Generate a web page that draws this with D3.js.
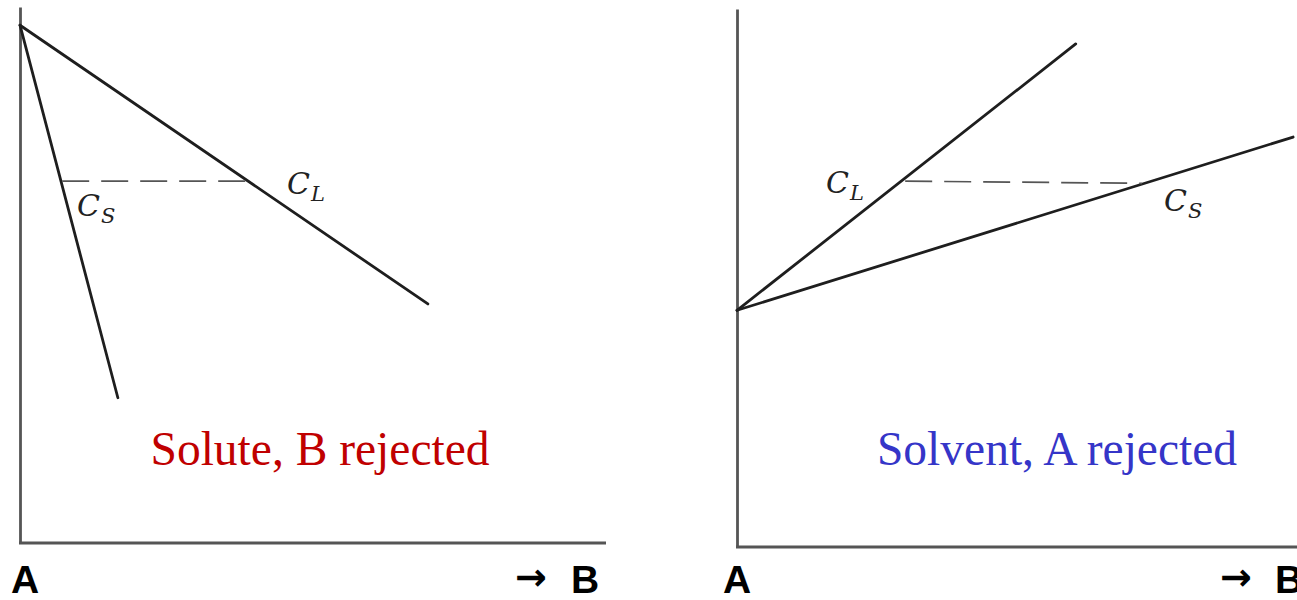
<!DOCTYPE html>
<html>
<head>
<meta charset="utf-8">
<script src="https://cdn.jsdelivr.net/npm/d3@7"></script>
<style>
  html, body { margin: 0; padding: 0; background: #ffffff; }
  svg { display: block; }
</style>
</head>
<body>
<svg id="chart" width="1297" height="600"></svg>
<script>
// ---- Data (composition 0 = A .. 100 = B, temperature 0..100) ----
const panelTitles = ["Solute, B rejected", "Solvent, A rejected"];
const titleColors = ["#c00000", "#3535c8"];
const axisLabels = ["A", "\u2192", "B"];

// Left panel: solute B rejected (k < 1)
const leftLiquidus = [{x: 0, y: 96.6}, {x: 69.6, y: 44.6}];
const leftSolidus  = [{x: 0, y: 96.6}, {x: 16.7, y: 27.1}];
const leftTie      = [{x: 7.2, y: 67.5}, {x: 38.9, y: 67.5}];

// Right panel: solvent A rejected (k > 1)
const rightLiquidus = [{x: 0, y: 44.0}, {x: 57.8, y: 93.5}];
const rightSolidus  = [{x: 0, y: 44.0}, {x: 94.9, y: 76.2}];
const rightTie      = [{x: 28.7, y: 68.0}, {x: 69.1, y: 67.6}];

const svg = d3.select("#chart");

function drawPanel(cfg) {
  const x = d3.scaleLinear().domain([0, 100]).range([cfg.x0, cfg.x0 + 586]);
  const y = d3.scaleLinear().domain([0, 100]).range([cfg.yBase, cfg.yTop]);
  const g = svg.append("g");

  // axes (plain frame lines, no ticks)
  const axisL = d3.axisLeft(y).tickValues([]).tickSizeOuter(0);
  const axisB = d3.axisBottom(x).tickValues([]).tickSizeOuter(0);
  g.append("g").attr("transform", `translate(${x(0)},0)`).call(axisL)
    .select(".domain").attr("stroke", "#555").attr("stroke-width", 2.8);
  g.append("g").attr("transform", `translate(0,${y(0)})`).call(axisB)
    .select(".domain").attr("stroke", "#555").attr("stroke-width", 2.8)
    .attr("d", `M${x(0) - 1},0H${cfg.axisEnd}`);

  const line = d3.line().x(d => x(d.x)).y(d => y(d.y));
  [cfg.liq, cfg.sol].forEach(pts => {
    g.append("path").datum(pts).attr("d", line)
      .attr("fill", "none").attr("stroke", "#1e1e1e")
      .attr("stroke-width", 2.8).attr("stroke-linecap", "round");
  });
  g.append("path").datum(cfg.tie).attr("d", line)
    .attr("fill", "none").attr("stroke", "#555")
    .attr("stroke-width", 1.7).attr("stroke-dasharray", "27,12");

  // C_L / C_S labels
  cfg.labels.forEach(l => {
    const t = g.append("text").attr("x", l.px).attr("y", l.py)
      .attr("font-family", "'DejaVu Serif', 'Liberation Serif', serif")
      .attr("font-style", "italic").attr("font-size", 30).attr("fill", "#222");
    t.append("tspan").text("C");
    t.append("tspan").attr("font-size", 21).attr("dy", 7).attr("dx", 1).text(l.sub);
  });

  // Panel title
  g.append("text").attr("x", cfg.titleX).attr("y", 465)
    .attr("text-anchor", "middle")
    .attr("font-family", "'Liberation Serif', 'Times New Roman', serif")
    .attr("font-size", 47.5).attr("fill", cfg.color).text(cfg.title);

  // A  and  -> B labels
  const sans = "'Liberation Sans', Arial, sans-serif";
  g.append("text").attr("x", cfg.aX).attr("y", 593)
    .attr("font-family", sans).attr("font-weight", "bold")
    .attr("font-size", 39).attr("fill", "#000").text(axisLabels[0]);
  g.append("text").attr("x", cfg.arrowX).attr("y", 590)
    .attr("font-family", "'DejaVu Sans', sans-serif").attr("font-weight", "bold")
    .attr("font-size", 38).attr("fill", "#000").text(axisLabels[1]);
  g.append("text").attr("x", cfg.bX).attr("y", 593)
    .attr("font-family", sans).attr("font-weight", "bold")
    .attr("font-size", 39).attr("fill", "#000").text(axisLabels[2]);
}

drawPanel({
  x0: 20, yBase: 543, yTop: 7, axisEnd: 606,
  liq: leftLiquidus, sol: leftSolidus, tie: leftTie,
  labels: [{px: 287, py: 194, sub: "L"}, {px: 77, py: 216, sub: "S"}],
  title: panelTitles[0], color: titleColors[0], titleX: 320,
  aX: 11, arrowX: 515, bX: 571
});

drawPanel({
  x0: 737, yBase: 547, yTop: 9, axisEnd: 1297,
  liq: rightLiquidus, sol: rightSolidus, tie: rightTie,
  labels: [{px: 826, py: 193, sub: "L"}, {px: 1164, py: 211, sub: "S"}],
  title: panelTitles[1], color: titleColors[1], titleX: 1057,
  aX: 723, arrowX: 1220, bX: 1275
});
</script>
</body>
</html>
